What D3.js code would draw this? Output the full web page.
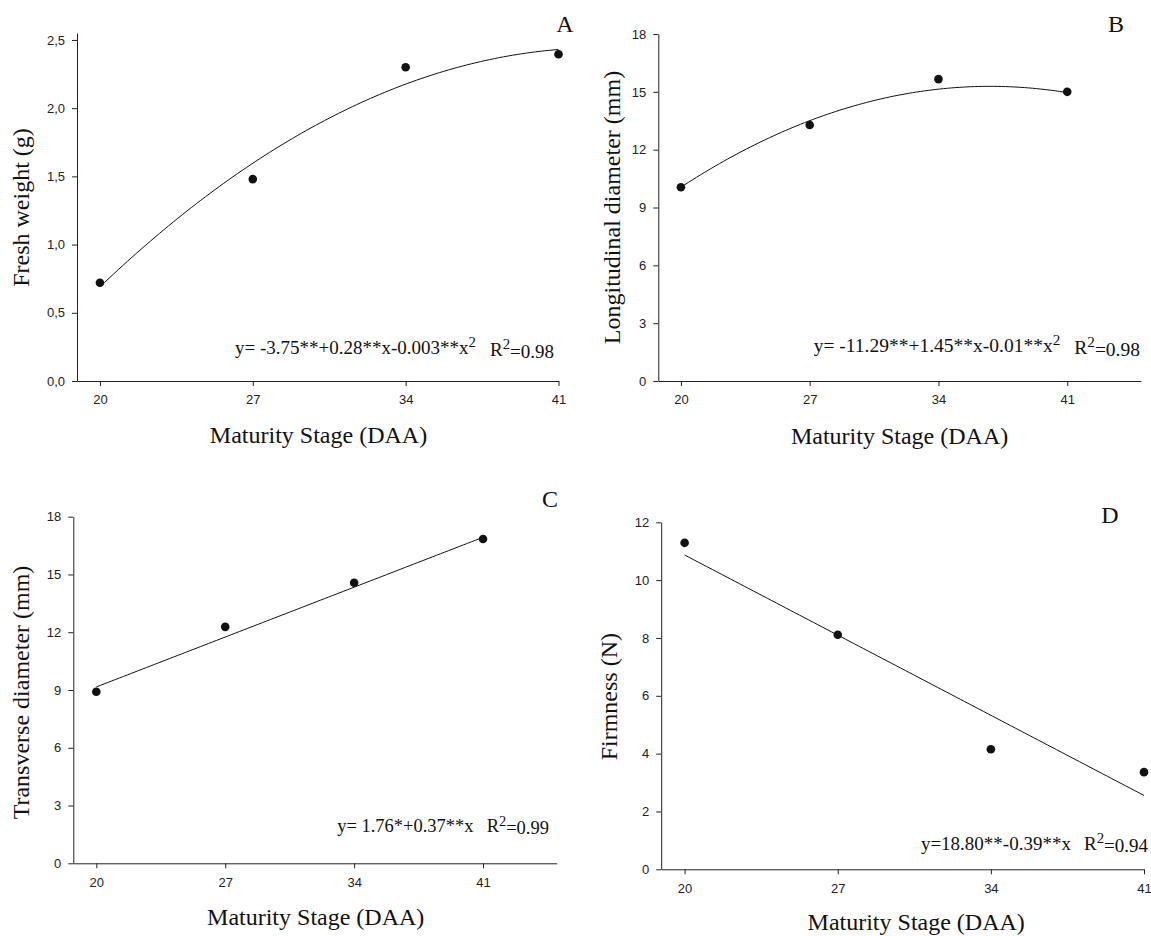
<!DOCTYPE html>
<html>
<head>
<meta charset="utf-8">
<script src="https://cdn.jsdelivr.net/npm/d3@7"></script>
<style>
  html, body { margin: 0; padding: 0; background: #fff; }
  svg { display: block; }
  .serif { font-family: "Liberation Serif", "Times New Roman", serif; }
  .axis text { font-family: "Liberation Sans", Arial, sans-serif; font-size: 13px; fill: #222; }
  .axis path, .axis line { stroke: #222; stroke-width: 1; }
</style>
</head>
<body>
<svg id="chart" width="1151" height="936"></svg>
<script>
// ---------------- DATA ----------------
const stages = [20, 27, 34, 41];
const xTickValues = [20, 27, 34, 41];

const freshWeight = [0.72, 1.48, 2.30, 2.395];
const longDiameter = [10.05, 13.28, 15.66, 15.0];
const transDiameter = [8.91, 12.28, 14.57, 16.84];
const firmness = [11.29, 8.11, 4.15, 3.36];

// regression coefficients [c0, c1, c2] as drawn
const fitFresh = [-3.695, 0.2858, -0.003327];
const fitLong = [-9.816, 1.364, -0.01853];
const fitTrans = [1.76, 0.37];
const fitFirm = [18.79, -0.396];

const ticksFresh = [0, 0.5, 1.0, 1.5, 2.0, 2.5];
const ticksLong = [0, 3, 6, 9, 12, 15, 18];
const ticksTrans = [0, 3, 6, 9, 12, 15, 18];
const ticksFirm = [0, 2, 4, 6, 8, 10, 12];

const panelLetters = ["A", "B", "C", "D"];
const yTitles = ["Fresh weight (g)", "Longitudinal diameter (mm)", "Transverse diameter (mm)", "Firmness (N)"];
const xTitle = "Maturity Stage (DAA)";
const eqMain = ["y= -3.75**+0.28**x-0.003**x", "y= -11.29**+1.45**x-0.01**x", "y= 1.76*+0.37**x", "y=18.80**-0.39**x"];
const eqHasSquare = [true, true, false, false];
const r2Values = ["=0.98", "=0.98", "=0.99", "=0.94"];

// ---------------- LAYOUT ----------------
const panels = [
  { values: freshWeight, fit: fitFresh, yTicks: ticksFresh, yDomain: [0, 2.551], comma: true,
    xDomain: [18.95, 41], left: 77, right: 558.5, top: 33, bottom: 381,
    letter: [565, 32], yT: [29, 207.5], xT: [318.5, 443], eq: [554, 354], eqSize: 19 },
  { values: longDiameter, fit: fitLong, yTicks: ticksLong, yDomain: [0, 18], comma: false,
    xDomain: [18.77, 45], left: 658.3, right: 1140.8, top: 34, bottom: 381,
    letter: [1116, 32], yT: [620, 207.5], xT: [899.6, 444], eq: [1140, 352], eqSize: 19.5 },
  { values: transDiameter, fit: fitTrans, yTicks: ticksTrans, yDomain: [0, 18], comma: false,
    xDomain: [18.75, 45], left: 73.3, right: 556.7, top: 516.7, bottom: 863.3,
    letter: [550, 506.7], yT: [29, 692.5], xT: [315.7, 925], eq: [549, 832], eqSize: 18.5 },
  { values: firmness, fit: fitFirm, yTicks: ticksFirm, yDomain: [0, 12], comma: false,
    xDomain: [18.93, 41], left: 661.2, right: 1144, top: 522.3, bottom: 869.3,
    letter: [1110, 523.3], yT: [617, 696.7], xT: [916.2, 930], eq: [1148, 850], eqSize: 19 }
];

const svg = d3.select("#chart");

function evalFit(c, x) {
  return c.reduce((s, k, i) => s + k * Math.pow(x, i), 0);
}

panels.forEach((p, i) => {
  const g = svg.append("g");
  const x = d3.scaleLinear().domain(p.xDomain).range([p.left, p.right]);
  const y = d3.scaleLinear().domain(p.yDomain).range([p.bottom, p.top]);

  const fmt = p.comma ? (d => d3.format(".1f")(d).replace(".", ",")) : d3.format("d");

  g.append("g").attr("class", "axis")
    .attr("transform", `translate(0,${p.bottom})`)
    .call(d3.axisBottom(x).tickValues(xTickValues).tickSize(5).tickSizeOuter(0).tickPadding(9).tickFormat(d3.format("d")));

  g.append("g").attr("class", "axis")
    .attr("transform", `translate(${p.left},0)`)
    .call(d3.axisLeft(y).tickValues(p.yTicks).tickSize(5).tickSizeOuter(0).tickPadding(7).tickFormat(fmt));

  // regression curve
  const xsFit = d3.range(0, 101).map(k => stages[0] + k * (stages[stages.length - 1] - stages[0]) / 100);
  const line = d3.line().x(d => x(d)).y(d => y(evalFit(p.fit, d)));
  g.append("path").datum(xsFit)
    .attr("d", line).attr("fill", "none").attr("stroke", "#111").attr("stroke-width", 1);

  // points
  g.selectAll("circle.pt").data(stages.map((s, k) => [s, p.values[k]]))
    .enter().append("circle").attr("class", "pt")
    .attr("cx", d => x(d[0])).attr("cy", d => y(d[1])).attr("r", 4.3).attr("fill", "#111");

  // panel letter
  g.append("text").attr("class", "serif")
    .attr("x", p.letter[0]).attr("y", p.letter[1])
    .attr("text-anchor", "middle").attr("font-size", 24).attr("fill", "#111")
    .text(panelLetters[i]);

  // y title
  g.append("text").attr("class", "serif")
    .attr("transform", `translate(${p.yT[0]},${p.yT[1]}) rotate(-90)`)
    .attr("text-anchor", "middle").attr("font-size", 24).attr("fill", "#111")
    .text(yTitles[i]);

  // x title
  g.append("text").attr("class", "serif")
    .attr("x", p.xT[0]).attr("y", p.xT[1])
    .attr("text-anchor", "middle").attr("font-size", 24).attr("fill", "#111")
    .text(xTitle);

  // equation
  const eq = g.append("text").attr("class", "serif")
    .attr("x", p.eq[0]).attr("y", p.eq[1])
    .attr("text-anchor", "end").attr("font-size", p.eqSize).attr("fill", "#111");
  eq.append("tspan").text(eqMain[i]);
  if (eqHasSquare[i]) {
    eq.append("tspan").attr("dy", "-0.45em").attr("font-size", "0.78em").text("2");
    eq.append("tspan").attr("dy", "0.45em").attr("dx", 14).text("R");
  } else {
    eq.append("tspan").attr("dx", 13).text("R");
  }
  eq.append("tspan").attr("dy", "-0.45em").attr("font-size", "0.78em").text("2");
  eq.append("tspan").attr("dy", "0.45em").text(r2Values[i]);
});
</script>
</body>
</html>
